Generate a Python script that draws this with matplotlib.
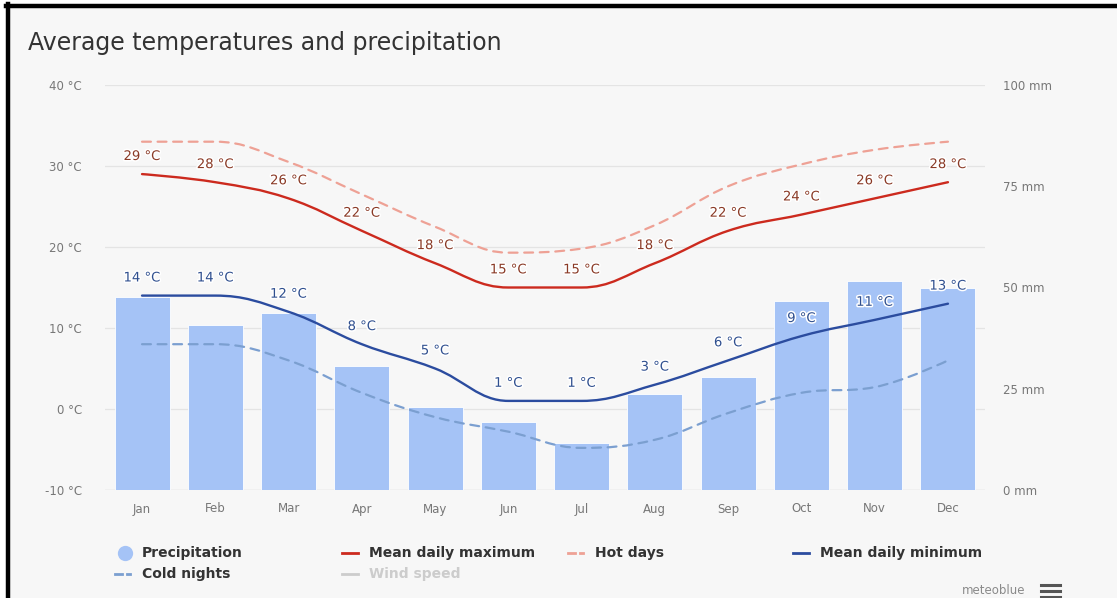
import numpy as np
from matplotlib import pyplot as plt
from matplotlib.path import Path
from matplotlib.patches import PathPatch, Rectangle
from matplotlib.lines import Line2D
import matplotlib.patheffects as pe

months = ['Jan', 'Feb', 'Mar', 'Apr', 'May', 'Jun', 'Jul', 'Aug', 'Sep', 'Oct', 'Nov', 'Dec']
precipitation = [47.7, 40.7, 43.8, 30.6, 20.6, 16.7, 11.5, 23.7, 27.8, 46.7, 51.7, 49.8]
mean_max = [29, 28, 26, 22, 18, 15, 15, 18, 22, 24, 26, 28]
hot_days = [33, 33, 30.5, 26.5, 22.5, 19.3, 19.8, 22.7, 27.5, 30.2, 32, 33]
mean_min = [14, 14, 12, 8, 5, 1, 1, 3, 6, 9, 11, 13]
cold_nights = [8, 8, 6, 2, -1, -2.8, -4.8, -3.8, -0.5, 2, 2.7, 6]
temp_ticks = [-10, 0, 10, 20, 30, 40]
precip_ticks = [0, 25, 50, 75, 100]

BG = '#f7f7f7'
C_BAR = '#a5c3f6'
C_MAX = '#cc2a1e'
C_HOT = '#eea195'
C_MIN = '#2b4c9f'
C_COLD = '#7b9fd0'
C_MAXLBL = '#8a3a26'
C_MINLBL = '#2f4f8f'
AXC = '#777777'


def spline_path(xs, ys, smoothing=1.5):
    # highcharts style spline: bezier control points around each point
    n = len(xs)
    denom = smoothing + 1
    lc = [None] * n
    rc = [None] * n
    for i in range(1, n - 1):
        px, py = xs[i], ys[i]
        lx, ly = xs[i - 1], ys[i - 1]
        nx, ny = xs[i + 1], ys[i + 1]
        lcx = (smoothing * px + lx) / denom
        lcy = (smoothing * py + ly) / denom
        rcx = (smoothing * px + nx) / denom
        rcy = (smoothing * py + ny) / denom
        corr = (rcy - lcy) * (rcx - px) / (rcx - lcx) + py - rcy
        lcy += corr
        rcy += corr
        if lcy > ly and lcy > py:
            lcy = max(ly, py); rcy = 2 * py - lcy
        elif lcy < ly and lcy < py:
            lcy = min(ly, py); rcy = 2 * py - lcy
        if rcy > ny and rcy > py:
            rcy = max(ny, py); lcy = 2 * py - rcy
        elif rcy < ny and rcy < py:
            rcy = min(ny, py); lcy = 2 * py - rcy
        lc[i] = (lcx, lcy)
        rc[i] = (rcx, rcy)
    verts = [(xs[0], ys[0])]
    codes = [Path.MOVETO]
    for i in range(1, n):
        c1 = rc[i - 1] if rc[i - 1] is not None else (xs[i - 1], ys[i - 1])
        c2 = lc[i] if lc[i] is not None else (xs[i], ys[i])
        verts += [c1, c2, (xs[i], ys[i])]
        codes += [Path.CURVE4] * 3
    return Path(verts, codes)


def fx(px):
    return px / 1117


def fy(py):
    return 1 - py / 598


fig = plt.figure(figsize=(11.17, 5.98), dpi=100, facecolor='white')
fig.patches.append(Rectangle((fx(6), 0), 1 - fx(6), fy(6), transform=fig.transFigure,
                             facecolor=BG, edgecolor='none', zorder=-2))
fig.add_artist(Line2D([fx(8), fx(8)], [0, fy(4)], color='black', lw=3.2))
fig.add_artist(Line2D([fx(6), 1], [fy(6), fy(6)], color='black', lw=3.2))

x = np.arange(len(months))

ax_p = fig.add_axes([fx(105.4), fy(490), 879.2 / 1117, 405 / 598])
ax_p.set_facecolor('none')
ax_p.set_xlim(-0.5, 11.5)
ax_p.set_ylim(0, 100)


# grid lines belong to the temperature axis but sit behind the bars
def t2mm(t):
    return (t + 10) * 2.0


for t in temp_ticks[1:]:
    ax_p.axhline(t2mm(t), color='#e4e4e4', lw=0.9, zorder=0)
ax_p.axhline(0, color='#d8d8d8', lw=1.0, zorder=0)

ax_p.bar(x, precipitation, width=0.75, color=C_BAR, edgecolor='white', linewidth=0.6, zorder=1)

ax_p.set_xticks(x)
ax_p.set_xticklabels(months)
ax_p.tick_params(axis='x', length=0, pad=9, labelsize=8.5, labelcolor=AXC)
for s in ax_p.spines.values():
    s.set_visible(False)

ax_t = ax_p.twinx()
ax_t.set_ylim(-10, 40)

ax_p.yaxis.tick_right()
ax_p.set_yticks(precip_ticks)
ax_p.set_yticklabels([f'{v} mm' for v in precip_ticks])
ax_p.tick_params(axis='y', length=0, pad=13, labelsize=8.5, labelcolor=AXC)

ax_t.yaxis.tick_left()
ax_t.set_yticks(temp_ticks)
ax_t.set_yticklabels([f'{v} °C' for v in temp_ticks])
ax_t.tick_params(axis='y', length=0, pad=17, labelsize=8.5, labelcolor=AXC)
for s in ax_t.spines.values():
    s.set_visible(False)

series = [
    (hot_days, C_HOT, (0, (4, 3)), 1.6),
    (cold_nights, C_COLD, (0, (4, 3)), 1.6),
    (mean_max, C_MAX, '-', 1.7),
    (mean_min, C_MIN, '-', 1.7),
]
for vals, col, ls, lw in series:
    ax_t.add_patch(PathPatch(spline_path(list(x), vals), facecolor='none', edgecolor=col,
                             linestyle=ls, lw=lw, capstyle='round', zorder=3))

outline = [pe.withStroke(linewidth=2.2, foreground='white')]
for vals, col in [(mean_max, C_MAXLBL), (mean_min, C_MINLBL)]:
    for xi, v in zip(x, vals):
        ax_t.annotate(f'{v} °C', (xi, v), xytext=(0, 8), textcoords='offset points',
                      ha='center', va='bottom', fontsize=9.5, color=col, zorder=5,
                      path_effects=outline)

fig.text(fx(28), fy(43), 'Average temperatures and precipitation', fontsize=17,
         color='#333333', va='center', ha='left')

# legend
fig.add_artist(Line2D([fx(125)], [fy(553)], marker='o', markersize=11, color=C_BAR,
                      markeredgewidth=0))
leg_items = [
    (142, 553, 'Precipitation', None, None, '#333333'),
    (369, 553, 'Mean daily maximum', C_MAX, '-', '#333333'),
    (595, 553, 'Hot days', C_HOT, 'dash', '#333333'),
    (820, 553, 'Mean daily minimum', C_MIN, '-', '#333333'),
    (142, 574, 'Cold nights', C_COLD, 'dash', '#333333'),
    (369, 574, 'Wind speed', '#cccccc', '-', '#cccccc'),
]
for px, py, label, col, ls, tcol in leg_items:
    if col is not None:
        x0 = px - 27
        if ls == '-':
            fig.add_artist(Line2D([fx(x0), fx(x0 + 16)], [fy(py), fy(py)], color=col, lw=2))
        else:
            fig.add_artist(Line2D([fx(x0), fx(x0 + 7)], [fy(py), fy(py)], color=col, lw=2))
            fig.add_artist(Line2D([fx(x0 + 12), fx(x0 + 15)], [fy(py), fy(py)], color=col, lw=2))
    fig.text(fx(px), fy(py), label, fontsize=10, color=tcol, va='center', ha='left',
             fontweight='semibold')

fig.text(fx(1025), fy(591), 'meteoblue', fontsize=8.5, color='#8a8a8a', ha='right', va='center')
for dy in (585, 591, 597):
    fig.add_artist(Line2D([fx(1041), fx(1060)], [fy(dy), fy(dy)], color='#555555', lw=2.2))

fig.savefig('out.png', dpi=100, facecolor='white')
